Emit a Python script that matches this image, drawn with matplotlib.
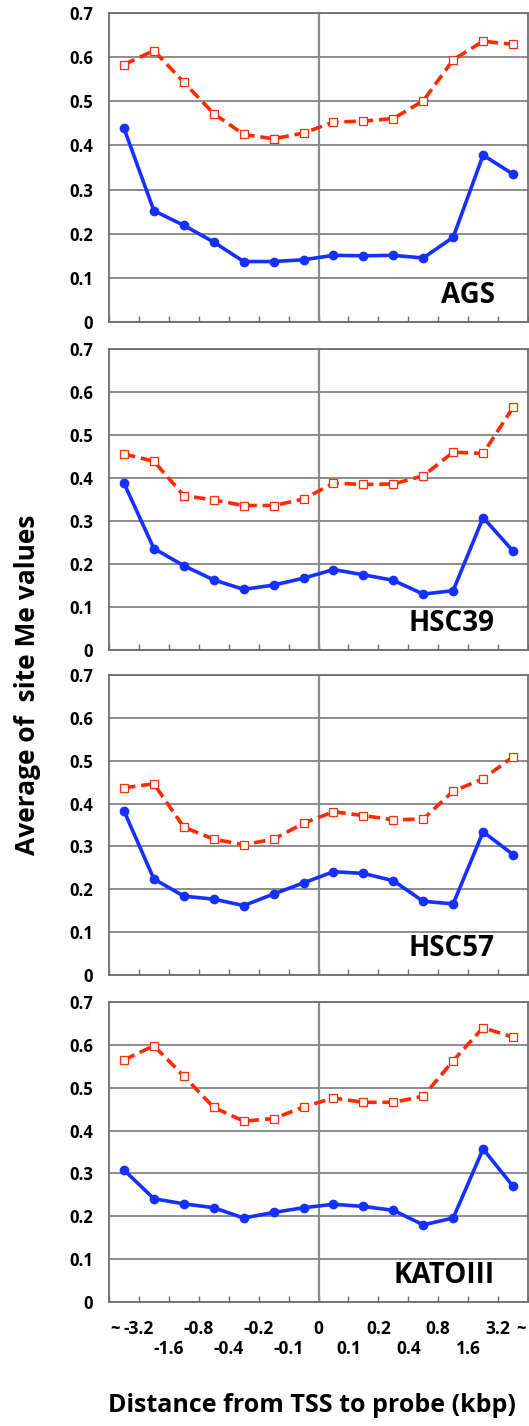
import matplotlib.pyplot as plt

plt.rcParams['font.family'] = ['Open Sans', 'DejaVu Sans']
plt.rcParams['font.weight'] = 'bold'

cell_lines = ['AGS', 'HSC39', 'HSC57', 'KATOIII']

# methylation averages per distance bin (14 bins, upstream -> downstream)
red_AGS = [0.583, 0.615, 0.543, 0.472, 0.425, 0.415, 0.428,
           0.453, 0.455, 0.461, 0.501, 0.594, 0.636, 0.629]
blue_AGS = [0.439, 0.252, 0.219, 0.181, 0.137, 0.137, 0.141,
            0.151, 0.150, 0.151, 0.145, 0.192, 0.378, 0.335]

red_HSC39 = [0.456, 0.439, 0.359, 0.349, 0.336, 0.336, 0.351,
             0.388, 0.385, 0.386, 0.405, 0.460, 0.457, 0.564]
blue_HSC39 = [0.388, 0.236, 0.196, 0.163, 0.141, 0.151, 0.167,
              0.187, 0.175, 0.162, 0.130, 0.138, 0.308, 0.230]

red_HSC57 = [0.437, 0.446, 0.345, 0.317, 0.304, 0.317, 0.354,
             0.381, 0.372, 0.362, 0.364, 0.429, 0.458, 0.509]
blue_HSC57 = [0.383, 0.224, 0.184, 0.177, 0.162, 0.189, 0.215,
              0.241, 0.237, 0.220, 0.172, 0.166, 0.334, 0.281]

red_KATOIII = [0.565, 0.598, 0.527, 0.454, 0.422, 0.428, 0.455,
               0.476, 0.466, 0.466, 0.480, 0.563, 0.640, 0.618]
blue_KATOIII = [0.308, 0.241, 0.229, 0.220, 0.196, 0.209, 0.220,
                0.228, 0.223, 0.214, 0.180, 0.196, 0.357, 0.270]

red_series = [red_AGS, red_HSC39, red_HSC57, red_KATOIII]
blue_series = [blue_AGS, blue_HSC39, blue_HSC57, blue_KATOIII]

# bin boundary labels, alternating between two rows
boundary_labels = ['-3.2', '-1.6', '-0.8', '-0.4', '-0.2', '-0.1', '0',
                   '0.1', '0.2', '0.4', '0.8', '1.6', '3.2']

W, H = 529, 1426
fig = plt.figure(figsize=(W / 100, H / 100), dpi=100)

# panel extents in pixels (top, bottom)
panels_px = [(13, 322), (349, 650), (675, 975), (1002, 1302)]
left_px, right_px = 109, 528

grid_col = '#6e6e6e'
x = list(range(14))
axes = []
for i, (top, bot) in enumerate(panels_px):
    ax = fig.add_axes([left_px / W, 1 - bot / H, (right_px - left_px) / W, (bot - top) / H])
    axes.append(ax)
    ax.set_xlim(-0.5, 13.5)
    ax.set_ylim(0, 0.7)
    ax.set_yticks([0, 0.1, 0.2, 0.3, 0.4, 0.5, 0.6, 0.7])
    ax.set_yticklabels(['0', '0.1', '0.2', '0.3', '0.4', '0.5', '0.6', '0.7'],
                       fontsize=12, fontweight='bold')
    ax.tick_params(axis='y', length=0, pad=11.5)
    ax.set_xticks([b + 0.5 for b in range(-1, 14)])
    ax.set_xticklabels([])
    ax.tick_params(axis='x', direction='in', length=4, width=1, color=grid_col)
    ax.yaxis.grid(True, color=grid_col, linewidth=1.1)
    ax.set_axisbelow(True)
    for s in ax.spines.values():
        s.set_color(grid_col)
        s.set_linewidth(1.3)
    ax.axvline(6.5, color='#8c8c8c', linewidth=1.6, zorder=1)

    ax.plot(x, red_series[i], color='#ff2a00', linestyle=(0, (3.2, 1.6)), linewidth=2.6,
            marker='s', markersize=5.5, markerfacecolor='white',
            markeredgecolor='#ff2a00', markeredgewidth=0.9, zorder=3)
    ax.plot(x, blue_series[i], color='#1530ff', linewidth=2.6,
            marker='o', markersize=6, markerfacecolor='#1530ff',
            markeredgecolor='#1530ff', zorder=4)

    ax.text(0.921, 0.062, cell_lines[i], transform=ax.transAxes, ha='right',
            va='baseline', fontsize=20, fontweight='bold')

# staggered boundary labels under the bottom panel
ax = axes[-1]
for j, lab in enumerate(boundary_labels):
    yrow = -0.09 if j % 2 == 0 else -0.155
    ax.text(j + 0.5, yrow, lab, transform=ax.get_xaxis_transform(),
            ha='center', va='center', fontsize=12.5, fontweight='bold')
ax.text(-0.3, -0.09, '~', transform=ax.get_xaxis_transform(),
        ha='center', va='center', fontsize=12, fontweight='bold')
ax.text(13.28, -0.09, '~', transform=ax.get_xaxis_transform(),
        ha='center', va='center', fontsize=12, fontweight='bold')

fig.text(312 / W, 1 - 1405 / H, 'Distance from TSS to probe (kbp)',
         ha='center', va='center', fontsize=18, fontweight='bold')
fig.text(28 / W, 1 - 685 / H, 'Average of  site Me values', rotation=90,
         ha='center', va='center', fontsize=19, fontweight='bold')

fig.savefig('out.png', dpi=100)
